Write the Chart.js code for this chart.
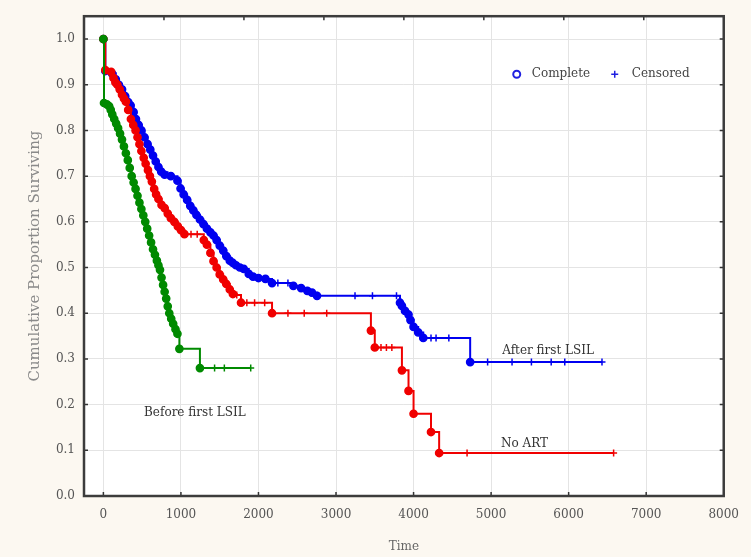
<!DOCTYPE html>
<html>
<head>
<meta charset="utf-8">
<script src="https://cdn.jsdelivr.net/npm/chart.js@4.4.1/dist/chart.umd.min.js"></script>
<style>
  html, body { margin: 0; padding: 0; background: #fcf8f1; }
  #wrap { width: 751px; height: 557px; }
</style>
</head>
<body>
<div id="wrap"><canvas id="survChart" width="751" height="557"></canvas></div>
<script>
// ---- data ----
const xTickValues = [0, 1000, 2000, 3000, 4000, 5000, 6000, 7000, 8000];
const yTickValues = [0, 0.1, 0.2, 0.3, 0.4, 0.5, 0.6, 0.7, 0.8, 0.9, 1.0];

const seriesNames = ['Before first LSIL', 'No ART', 'After first LSIL'];

const greenTime = [0, 8, 45, 75, 95, 115, 140, 165, 190, 215, 240, 265, 290, 315, 340, 365, 390, 415, 440, 465,
  490, 515, 540, 565, 590, 615, 640, 665, 690, 710, 730, 750, 770, 790, 810, 830, 850, 875, 900, 930,
  955, 980, 1245, 1434, 1560, 1900];
const greenSurv = [1.0, 0.86, 0.857, 0.853, 0.845, 0.835, 0.825, 0.815, 0.805, 0.793, 0.78, 0.765, 0.75, 0.735, 0.718, 0.70, 0.686, 0.672, 0.657, 0.642,
  0.628, 0.614, 0.60, 0.585, 0.57, 0.555, 0.54, 0.528, 0.515, 0.505, 0.495, 0.478, 0.462, 0.447, 0.432, 0.415, 0.40, 0.388, 0.377, 0.365,
  0.355, 0.322, 0.28, 0.28, 0.28, 0.28];
const greenCensored = [1434, 1560, 1900];

const redTime = [0, 25, 100, 130, 155, 180, 210, 240, 265, 290, 320, 355, 385, 415, 440, 465, 490, 520, 545, 575,
  600, 625, 655, 680, 710, 750, 790, 830, 870, 915, 960, 1000, 1045, 1130, 1210, 1295, 1335, 1380, 1420, 1460,
  1500, 1545, 1585, 1630, 1670, 1720, 1775, 1850, 1950, 2080, 2175, 2380, 2590, 2880, 3450, 3500, 3580, 3650, 3720, 3850,
  3935, 4000, 4225, 4330, 4690, 6580];
const redSurv = [1.0, 0.932, 0.928, 0.915, 0.905, 0.90, 0.89, 0.878, 0.87, 0.863, 0.845, 0.825, 0.812, 0.80, 0.785, 0.77, 0.755, 0.74, 0.727, 0.713,
  0.70, 0.688, 0.672, 0.66, 0.65, 0.637, 0.63, 0.618, 0.608, 0.60, 0.59, 0.582, 0.573, 0.573, 0.573, 0.56, 0.55, 0.532, 0.514, 0.50,
  0.485, 0.474, 0.464, 0.452, 0.442, 0.44, 0.423, 0.423, 0.423, 0.423, 0.40, 0.40, 0.40, 0.40, 0.362, 0.325, 0.325, 0.325, 0.325, 0.275,
  0.23, 0.18, 0.14, 0.094, 0.094, 0.094];
const redCensored = [1130, 1210, 1720, 1850, 1950, 2080, 2380, 2590, 2880, 3580, 3650, 3720, 4690, 6580];

const blueTime = [0, 25, 110, 160, 200, 240, 280, 320, 350, 390, 420, 455, 490, 530, 570, 605, 640, 675, 710, 745,
  790, 830, 870, 955, 995, 1035, 1080, 1120, 1160, 1200, 1245, 1290, 1335, 1380, 1420, 1460, 1500, 1545, 1585, 1630,
  1670, 1710, 1760, 1810, 1875, 1930, 2000, 2090, 2175, 2250, 2380, 2450, 2550, 2630, 2690, 2755, 3245, 3470, 3780, 3825,
  3850, 3890, 3935, 3960, 4000, 4060, 4125, 4225, 4290, 4455, 4730, 4955, 5270, 5520, 5775, 5950, 6430];
const blueSurv = [1.0, 0.93, 0.925, 0.912, 0.90, 0.89, 0.875, 0.862, 0.855, 0.84, 0.825, 0.812, 0.80, 0.785, 0.77, 0.758, 0.745, 0.732, 0.72, 0.71,
  0.703, 0.703, 0.70, 0.69, 0.673, 0.66, 0.648, 0.635, 0.625, 0.615, 0.605, 0.595, 0.585, 0.577, 0.57, 0.56, 0.548, 0.537, 0.525, 0.515,
  0.51, 0.505, 0.50, 0.497, 0.486, 0.48, 0.477, 0.475, 0.466, 0.466, 0.466, 0.46, 0.455, 0.449, 0.445, 0.438, 0.438, 0.438, 0.438, 0.423,
  0.416, 0.405, 0.397, 0.385, 0.37, 0.358, 0.346, 0.346, 0.346, 0.346, 0.293, 0.293, 0.293, 0.293, 0.293, 0.293, 0.293];
const blueCensored = [830, 2250, 2380, 3245, 3470, 3780, 4225, 4290, 4455, 4955, 5270, 5520, 5775, 5950, 6430];

// curve labels, placed in data units
const curveLabelText = ['After first LSIL', 'No ART', 'Before first LSIL'];
const curveLabelTime = [5735, 5430, 1180];
const curveLabelSurv = [0.318, 0.113, 0.183];

const legendText = ['Complete', 'Censored'];

// ---- helpers ----
function toPoints(times, surv) {
  return times.map((t, i) => ({ x: t, y: surv[i] }));
}

function makeSeries(label, times, surv, censored, color) {
  return {
    label: label,
    data: toPoints(times, surv),
    stepped: true,
    borderColor: color,
    backgroundColor: color,
    borderWidth: 2,
    pointRadius: ctx => censored.includes(ctx.raw.x) ? 3.5 : 3.6,
    pointStyle: ctx => censored.includes(ctx.raw.x) ? 'cross' : 'circle',
    pointBorderColor: color,
    pointBackgroundColor: color,
    pointBorderWidth: 1.5,
    pointHoverRadius: 3.6
  };
}

const SERIF = "'DejaVu Serif', 'Liberation Serif', serif";

const framePlugin = {
  id: 'framePlugin',
  beforeDraw(chart) {
    const { ctx, chartArea: a } = chart;
    ctx.save();
    ctx.fillStyle = '#ffffff';
    ctx.fillRect(a.left, a.top, a.right - a.left, a.bottom - a.top);
    ctx.restore();
  },
  afterDraw(chart) {
    const { ctx, chartArea: a, scales } = chart;
    ctx.save();

    // inward tick marks on all four sides
    ctx.strokeStyle = '#333';
    ctx.lineWidth = 1.5;
    ctx.beginPath();
    scales.x.ticks.forEach(t => {
      const px = scales.x.getPixelForValue(t.value);
      ctx.moveTo(px, a.bottom);
      ctx.lineTo(px, a.bottom - 4);
    });
    scales.xTop.ticks.forEach(t => {
      const px = scales.xTop.getPixelForValue(t.value);
      ctx.moveTo(px, a.top);
      ctx.lineTo(px, a.top + 4);
    });
    scales.y.ticks.forEach(t => {
      const py = scales.y.getPixelForValue(t.value);
      ctx.moveTo(a.left, py);
      ctx.lineTo(a.left + 4, py);
      ctx.moveTo(a.right, py);
      ctx.lineTo(a.right - 4, py);
    });
    ctx.stroke();

    // frame
    ctx.strokeStyle = '#3c3c3c';
    ctx.lineWidth = 2.5;
    ctx.strokeRect(a.left, a.top, a.right - a.left, a.bottom - a.top);

    // legend (Complete / Censored)
    const ly = a.top + 58;
    const lx = a.right - 207;
    ctx.strokeStyle = '#2020e0';
    ctx.fillStyle = '#ffffff';
    ctx.lineWidth = 2;
    ctx.beginPath();
    ctx.arc(lx, ly, 3.5, 0, Math.PI * 2);
    ctx.fill();
    ctx.stroke();
    ctx.lineWidth = 1.5;
    ctx.beginPath();
    ctx.moveTo(lx + 98, ly - 3.5);
    ctx.lineTo(lx + 98, ly + 3.5);
    ctx.moveTo(lx + 94.5, ly);
    ctx.lineTo(lx + 101.5, ly);
    ctx.stroke();
    ctx.fillStyle = '#444';
    ctx.font = '12px ' + SERIF;
    ctx.textBaseline = 'middle';
    ctx.textAlign = 'left';
    ctx.fillText(legendText[0], lx + 15, ly);
    ctx.fillText(legendText[1], lx + 115, ly);

    // curve labels
    ctx.fillStyle = '#333';
    ctx.textAlign = 'center';
    curveLabelText.forEach((txt, i) => {
      const px = scales.x.getPixelForValue(curveLabelTime[i]);
      const py = scales.y.getPixelForValue(curveLabelSurv[i]);
      ctx.fillText(txt, px, py);
    });

    ctx.restore();
  }
};

const ctx = document.getElementById('survChart').getContext('2d');
const survChart = new Chart(ctx, {
  type: 'line',
  data: {
    datasets: [
      makeSeries(seriesNames[0], greenTime, greenSurv, greenCensored, '#008a00'),
      makeSeries(seriesNames[1], redTime, redSurv, redCensored, '#f00000'),
      makeSeries(seriesNames[2], blueTime, blueSurv, blueCensored, '#0000f0')
    ]
  },
  options: {
    responsive: false,
    animation: false,
    layout: { padding: { top: 14, right: 11, left: 0, bottom: 0 } },
    plugins: {
      legend: { display: false },
      tooltip: { enabled: false }
    },
    scales: {
      x: {
        type: 'linear',
        position: 'bottom',
        min: -250,
        max: 8000,
        afterBuildTicks: scale => { scale.ticks = xTickValues.map(v => ({ value: v })); },
        afterFit: scale => { scale.height = 61; },
        grid: { color: '#e4e4e4', lineWidth: 1, drawTicks: false },
        border: { display: false },
        ticks: {
          padding: 12,
          color: '#555',
          font: { family: SERIF, size: 12 },
          callback: v => String(v)
        },
        title: {
          display: true,
          text: 'Time',
          color: '#666',
          font: { family: SERIF, size: 12 },
          padding: { top: 0, bottom: 3 }
        }
      },
      xTop: {
        type: 'linear',
        position: 'top',
        min: 0,
        max: 8250,
        ticks: { display: false, stepSize: 1000 },
        grid: { display: false, drawTicks: false },
        border: { display: false },
        afterFit: scale => { scale.height = 0; }
      },
      y: {
        type: 'linear',
        min: 0,
        max: 1.05,
        afterBuildTicks: scale => { scale.ticks = yTickValues.map(v => ({ value: v })); },
        afterFit: scale => { scale.width = 84; },
        grid: { color: '#e4e4e4', lineWidth: 1, drawTicks: false },
        border: { display: false },
        ticks: {
          padding: 9,
          color: '#555',
          font: { family: SERIF, size: 12 },
          callback: v => Number(v).toFixed(1)
        },
        title: {
          display: true,
          text: 'Cumulative Proportion Surviving',
          color: '#8a8a8a',
          font: { family: SERIF, size: 15 },
          padding: { top: 26, bottom: 0 }
        }
      }
    }
  },
  plugins: [framePlugin]
});
</script>
</body>
</html>
